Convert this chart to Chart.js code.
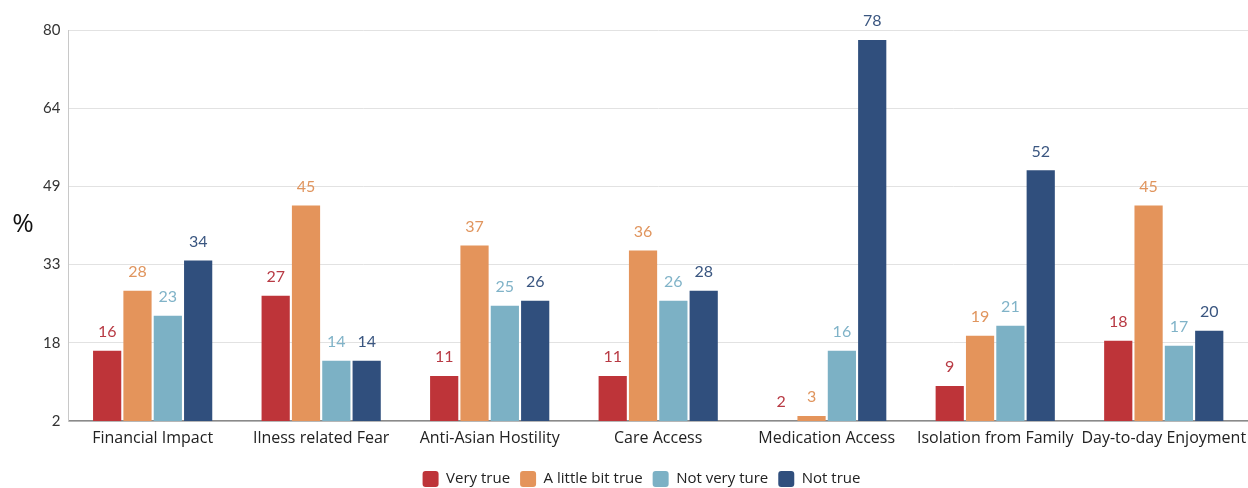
<!DOCTYPE html>
<html>
<head>
<meta charset="utf-8">
<script src="https://cdn.jsdelivr.net/npm/chart.js@4"></script>
<style>
  html, body { margin: 0; padding: 0; background: #fff; overflow: hidden; }
  #wrap { width: 1248px; height: 497px; position: relative; }
</style>
</head>
<body>
<div id="wrap"><canvas id="myChart"></canvas></div>
<script>
const categories = ['Financial Impact', 'Ilness related Fear', 'Anti-Asian Hostility', 'Care Access',
  'Medication Access', 'Isolation from Family', 'Day-to-day Enjoyment'];
const seriesNames = ['Very true', 'A little bit true', 'Not very ture', 'Not true'];
const veryTrue = [16, 27, 11, 11, 2, 9, 18];
const littleTrue = [28, 45, 37, 36, 3, 19, 45];
const notVeryTrue = [23, 14, 25, 26, 16, 21, 17];
const notTrue = [34, 14, 26, 28, 78, 52, 20];
const yTicks = [2, 17.6, 33.2, 48.8, 64.4, 80];

const barColors = ['#be3439', '#e4945b', '#7cb1c5', '#304f7d'];
const labelColors = ['#b83a44', '#e0955e', '#80b3c8', '#3a5680'];

const ctx = document.getElementById('myChart').getContext('2d');

// numbers above each bar
const valueLabels = {
  id: 'valueLabels',
  afterDatasetsDraw(chart) {
    const c = chart.ctx;
    c.save();
    c.font = '16px Lato';
    c.textAlign = 'center';
    c.textBaseline = 'middle';
    chart.data.datasets.forEach((ds, i) => {
      const meta = chart.getDatasetMeta(i);
      meta.data.forEach((bar, j) => {
        c.fillStyle = labelColors[i];
        c.fillText(ds.data[j], bar.x, bar.y - 19);
      });
    });
    c.restore();
  }
};

// unrotated "%" axis title
const percentTitle = {
  id: 'percentTitle',
  afterDraw(chart) {
    const c = chart.ctx;
    c.save();
    c.font = '26px "Open Sans"';
    c.fillStyle = '#111';
    c.textAlign = 'center';
    c.textBaseline = 'middle';
    c.fillText('%', 23, 225);
    c.restore();
  }
};

const datasets = [veryTrue, littleTrue, notVeryTrue, notTrue].map((d, i) => ({
  label: seriesNames[i],
  data: d,
  backgroundColor: barColors[i],
  borderWidth: 0,
  categoryPercentage: 0.72,
  barPercentage: 0.93
}));

const myChart = new Chart(ctx, {
  type: 'bar',
  data: { labels: categories, datasets: datasets },
  plugins: [valueLabels, percentTitle],
  options: {
    responsive: true,
    maintainAspectRatio: false,
    animation: false,
    layout: { padding: { top: 30, left: 35, right: 0, bottom: 0 } },
    plugins: {
      tooltip: { enabled: false },
      legend: {
        position: 'bottom',
        labels: {
          font: { family: 'Open Sans', size: 15 },
          color: '#222',
          boxWidth: 16,
          boxHeight: 16,
          useBorderRadius: true,
          borderRadius: 3,
          padding: 10
        }
      }
    },
    scales: {
      x: {
        afterFit(scale) { scale.height = 40; },
        grid: { display: false },
        border: { display: true, color: '#8a8a8a', width: 1.5 },
        ticks: {
          font: { family: 'Open Sans', size: 16 },
          color: '#222',
          maxRotation: 0,
          autoSkip: false,
          padding: 0
        }
      },
      y: {
        min: 2,
        max: 80,
        afterBuildTicks(scale) {
          scale.ticks = yTicks.map(v => ({ value: v }));
        },
        grid: { color: '#e2e2e2', drawTicks: false },
        border: { display: true, color: '#c8c8c8' },
        ticks: {
          font: { family: 'Lato', size: 15 },
          color: '#333',
          padding: 8,
          callback: v => Math.round(v)
        }
      }
    }
  }
});
</script>
</body>
</html>
